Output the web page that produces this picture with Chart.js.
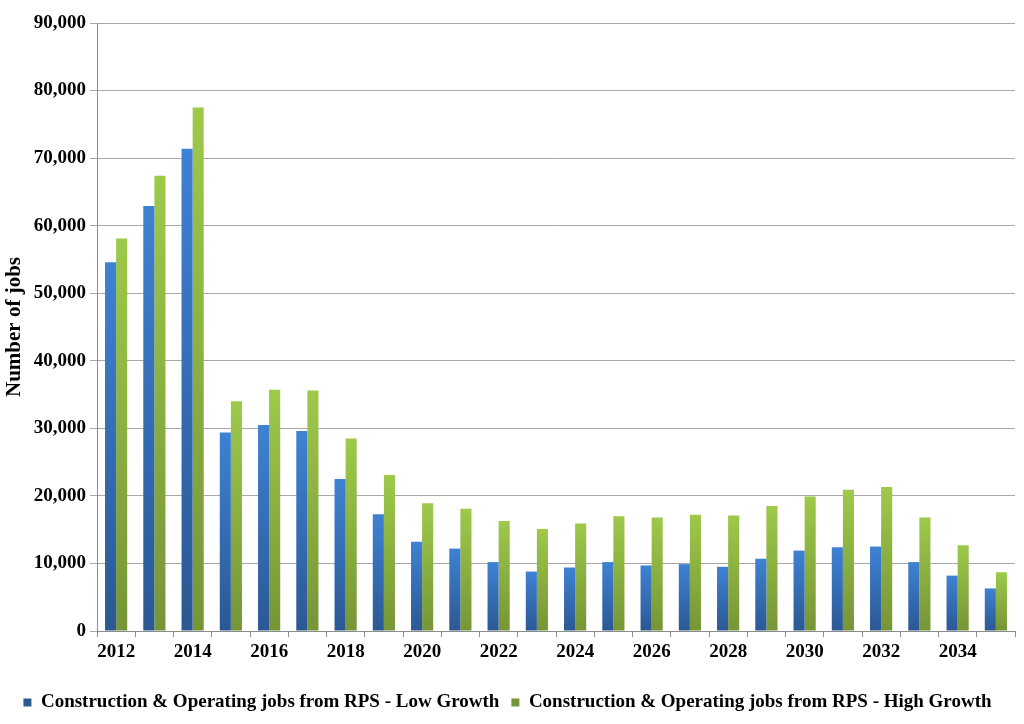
<!DOCTYPE html>
<html>
<head>
<meta charset="utf-8">
<script src="https://cdn.jsdelivr.net/npm/chart.js@4"></script>
<style>
  html, body { margin: 0; padding: 0; background: #fff; }
  #wrap { width: 1024px; height: 724px; }
</style>
</head>
<body>
<div id="wrap"><canvas id="chart" width="1024" height="724"></canvas></div>
<script>
const years = ['2012', '2013', '2014', '2015', '2016', '2017', '2018', '2019', '2020', '2021', '2022', '2023',
    '2024', '2025', '2026', '2027', '2028', '2029', '2030', '2031', '2032', '2033', '2034', '2035'];
const lowGrowth = [54600, 62900, 71400, 29400, 30500, 29600, 22500, 17300, 13200, 12200, 10200, 8800,
    9400, 10200, 9700, 9900, 9500, 10700, 11900, 12400, 12500, 10200, 8200, 6300];
const highGrowth = [58100, 67400, 77500, 34000, 35700, 35600, 28500, 23100, 18900, 18100, 16300, 15100,
    15900, 17000, 16800, 17200, 17100, 18500, 19900, 20900, 21300, 16800, 12700, 8700];
const yTicks = [0, 10000, 20000, 30000, 40000, 50000, 60000, 70000, 80000, 90000];

const font = { family: '"Liberation Serif", "Times New Roman", serif', size: 19, weight: 'bold' };

// each bar gets its own vertical gradient, light at the top
function barGradient(ctx, top, bottom) {
    const chart = ctx.chart;
    if (ctx.type !== 'data' || !chart.chartArea) return top;
    const y = chart.scales.y;
    const g = chart.ctx.createLinearGradient(0, y.getPixelForValue(ctx.raw), 0, y.getPixelForValue(0));
    g.addColorStop(0, top);
    g.addColorStop(1, bottom);
    return g;
}

new Chart(document.getElementById('chart'), {
    type: 'bar',
    data: {
        labels: years,
        datasets: [
            {
                label: 'Construction & Operating jobs from RPS - Low Growth',
                data: lowGrowth,
                backgroundColor: ctx => ctx.type === 'data' ? barGradient(ctx, '#3E82D3', '#2B5893') : '#3A78C8',
                categoryPercentage: 0.58,
                barPercentage: 1.0
            },
            {
                label: 'Construction & Operating jobs from RPS - High Growth',
                data: highGrowth,
                backgroundColor: ctx => ctx.type === 'data' ? barGradient(ctx, '#9EC94A', '#769536') : '#8DB843',
                categoryPercentage: 0.58,
                barPercentage: 1.0
            }
        ]
    },
    options: {
        responsive: false,
        animation: false,
        layout: { padding: { top: 23, right: 9, left: 0, bottom: 2 } },
        plugins: {
            legend: {
                position: 'bottom',
                labels: { font: font, color: '#000', boxWidth: 8, boxHeight: 8, padding: 12 }
            },
            tooltip: { enabled: false }
        },
        scales: {
            x: {
                grid: { offset: true, drawOnChartArea: false, drawTicks: true, tickLength: 6, color: '#8C8C8C' },
                border: { color: '#8C8C8C' },
                ticks: {
                    font: font, color: '#000', autoSkip: false, maxRotation: 0, padding: 4,
                    callback: (v, i) => i % 2 === 0 ? years[i] : ''
                },
                afterFit: s => { s.height = 50; }
            },
            y: {
                min: 0,
                max: 90000,
                afterBuildTicks: s => { s.ticks = yTicks.map(v => ({ value: v })); },
                grid: { color: '#A8A8A8', tickLength: 7 },
                border: { color: '#8C8C8C' },
                ticks: {
                    font: font, color: '#000', padding: 4,
                    callback: v => v.toLocaleString('en-US')
                },
                title: { display: true, text: 'Number of jobs', font: { ...font, size: 21 }, color: '#000', padding: 2 },
                afterFit: s => { s.width = 97; }
            }
        }
    }
});
</script>
</body>
</html>
